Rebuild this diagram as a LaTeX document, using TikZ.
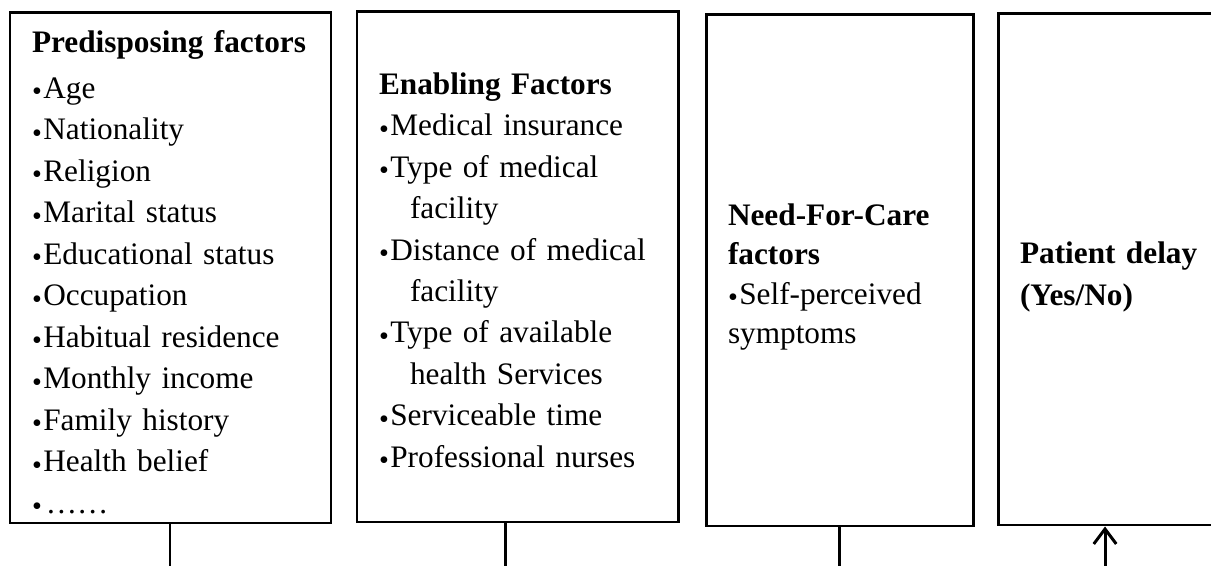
\documentclass[tikz,border=0pt]{standalone}
\usepackage{fontspec}
\setmainfont{Liberation Serif}
\usepackage{tikz}
\usetikzlibrary{arrows.meta}

\newcommand{\itm}{\raisebox{-0.08em}{\fontsize{16}{16}\selectfont\textbullet}\hspace{0.03cm}}
\newcommand{\cont}{\hspace*{0.62cm}}
\newcommand{\topgap}[1]{\rule{0pt}{#1}}

\tikzset{
  factorbox/.style={draw, line width=1.7pt, inner xsep=0.44cm, inner ysep=0pt,
    align=left, anchor=center, minimum height=10.2cm,
    font=\fontsize{17.8}{23.6}\selectfont},
  link/.style={line width=1.7pt}
}

\begin{document}
\begin{tikzpicture}
\useasboundingbox (0,0) rectangle (24.22,11.32);
\node[factorbox, minimum width=6.42cm, text width=5.54cm] (Predisp) at (03.41,05.96)
  {\topgap{0.64cm}\mbox{\textbf{Predisposing factors}}\\[0.09cm]
   \itm Age\\ \itm Nationality\\ \itm Religion\\ \itm Marital status\\
   \itm Educational status\\ \itm Occupation\\ \itm Habitual residence\\
   \itm Monthly income\\ \itm Family history\\ \itm Health belief\\ \itm\hspace{0.05cm}……};
\node[factorbox, minimum width=6.42cm, text width=5.54cm] (Enabling) at (10.35,05.98)
  {\topgap{0.6cm}\textbf{Enabling Factors}\\
   \itm Medical insurance\\ \itm Type of medical\\ \cont facility\\
   \itm Distance of medical\\ \cont facility\\ \itm Type of available\\
   \cont health Services\\ \itm Serviceable time\\ \itm Professional nurses};
\node[factorbox, minimum width=5.34cm, text width=4.46cm, minimum height=10.22cm] (Need) at (16.79,05.91)
  {\topgap{0.7cm}\textbf{Need-For-Care}\\[-0.04cm] \textbf{factors}\\[-0.04cm] \itm Self-perceived\\[-0.04cm] symptoms};
\node[factorbox, minimum width=4.64cm, text width=3.76cm, minimum height=10.22cm] (Delay) at (22.28,05.93)
  {\topgap{0.73cm}\textbf{Patient delay}\\ \textbf{(Yes/No)}};
% links below the boxes
\coordinate (PredispEnd) at (03.40,0);
\coordinate (EnablingEnd) at (10.10,0);
\coordinate (NeedEnd) at (16.78,0);
\coordinate (DelayEnd) at (22.10,0);
\draw[link] (Predisp.south -| PredispEnd) -- (PredispEnd);
\draw[link] (Enabling.south -| EnablingEnd) -- (EnablingEnd);
\draw[link] (Need.south -| NeedEnd) -- (NeedEnd);
\draw[link, -{Straight Barb[length=0.3cm, width=0.45cm]}] (DelayEnd) -- (Delay.south -| DelayEnd);
\end{tikzpicture}
\end{document}
